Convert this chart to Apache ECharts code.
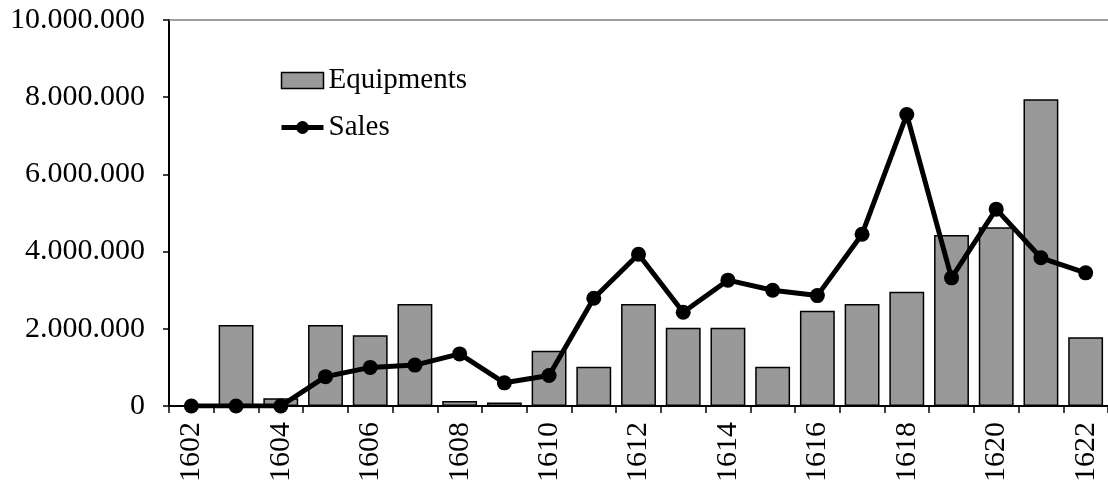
<!DOCTYPE html>
<html>
<head>
<meta charset="utf-8">
<script src="https://cdn.jsdelivr.net/npm/echarts@6/dist/echarts.min.js"></script>
<style>
  html, body { margin: 0; padding: 0; background: #fff; }
  #main { width: 1108px; height: 491px; }
</style>
</head>
<body>
<div id="main"></div>
<script>
var years = ['1602', '1603', '1604', '1605', '1606', '1607', '1608', '1609', '1610', '1611',
    '1612', '1613', '1614', '1615', '1616', '1617', '1618', '1619', '1620', '1621', '1622'];
var equipments = [0, 2100000, 200000, 2100000, 1830000, 2640000, 130000, 90000, 1430000, 1020000,
    2640000, 2030000, 2030000, 1020000, 2470000, 2640000, 2960000, 4430000, 4630000, 7950000, 1780000];
var sales = [0, 0, 0, 760000, 1000000, 1060000, 1350000, 600000, 790000, 2790000,
    3930000, 2430000, 3260000, 3000000, 2860000, 4450000, 7550000, 3320000, 5100000, 3840000, 3450000];

var font = 'Liberation Serif, Times New Roman, serif';

function fmt(v) {
    return String(v).replace(/\B(?=(\d{3})+(?!\d))/g, '.');
}

var myChart = echarts.init(document.getElementById('main'));

var option = {
    animation: false,
    grid: {
        left: 169,
        right: -4,
        top: 20,
        bottom: 85
    },
    legend: {
        orient: 'vertical',
        left: 274,
        top: 61,
        itemGap: 18,
        itemWidth: 42,
        itemHeight: 16,
        textStyle: {
            fontFamily: font,
            fontSize: 29,
            color: '#000'
        },
        data: [
            {
                name: 'Equipments',
                icon: 'rect',
                itemStyle: { color: '#999999', borderColor: '#000', borderWidth: 1.5 }
            },
            {
                name: 'Sales',
                lineStyle: { color: '#000', width: 5 },
                itemStyle: { color: '#000' }
            }
        ]
    },
    xAxis: [
        {
            type: 'category',
            data: years,
            boundaryGap: true,
            axisLine: { lineStyle: { color: '#000', width: 2 } },
            axisTick: {
                show: true,
                alignWithLabel: false,
                interval: 0,
                length: 7,
                lineStyle: { color: '#000', width: 1.5 }
            },
            axisLabel: {
                interval: 1,
                rotate: 90,
                margin: 16,
                fontFamily: font,
                fontSize: 30,
                color: '#000'
            }
        },
        {
            type: 'category',
            position: 'top',
            data: years,
            axisLine: { show: true, lineStyle: { color: '#808080', width: 1.5 } },
            axisTick: { show: false },
            axisLabel: { show: false }
        }
    ],
    yAxis: {
        type: 'value',
        min: 0,
        max: 10000000,
        interval: 2000000,
        splitLine: { show: false },
        axisLine: { show: true, lineStyle: { color: '#000', width: 2 } },
        axisTick: { show: true, length: 6, lineStyle: { color: '#000', width: 1.5 } },
        axisLabel: {
            margin: 24,
            fontFamily: font,
            fontSize: 30,
            color: '#000',
            formatter: fmt
        }
    },
    series: [
        {
            name: 'Equipments',
            type: 'bar',
            data: equipments,
            barWidth: '78%',
            itemStyle: {
                color: '#999999',
                borderColor: '#000',
                borderWidth: 1.5
            }
        },
        {
            name: 'Sales',
            type: 'line',
            data: sales,
            symbol: 'circle',
            symbolSize: 15,
            lineStyle: { color: '#000', width: 5 },
            itemStyle: { color: '#000' }
        }
    ]
};

myChart.setOption(option);
</script>
</body>
</html>
